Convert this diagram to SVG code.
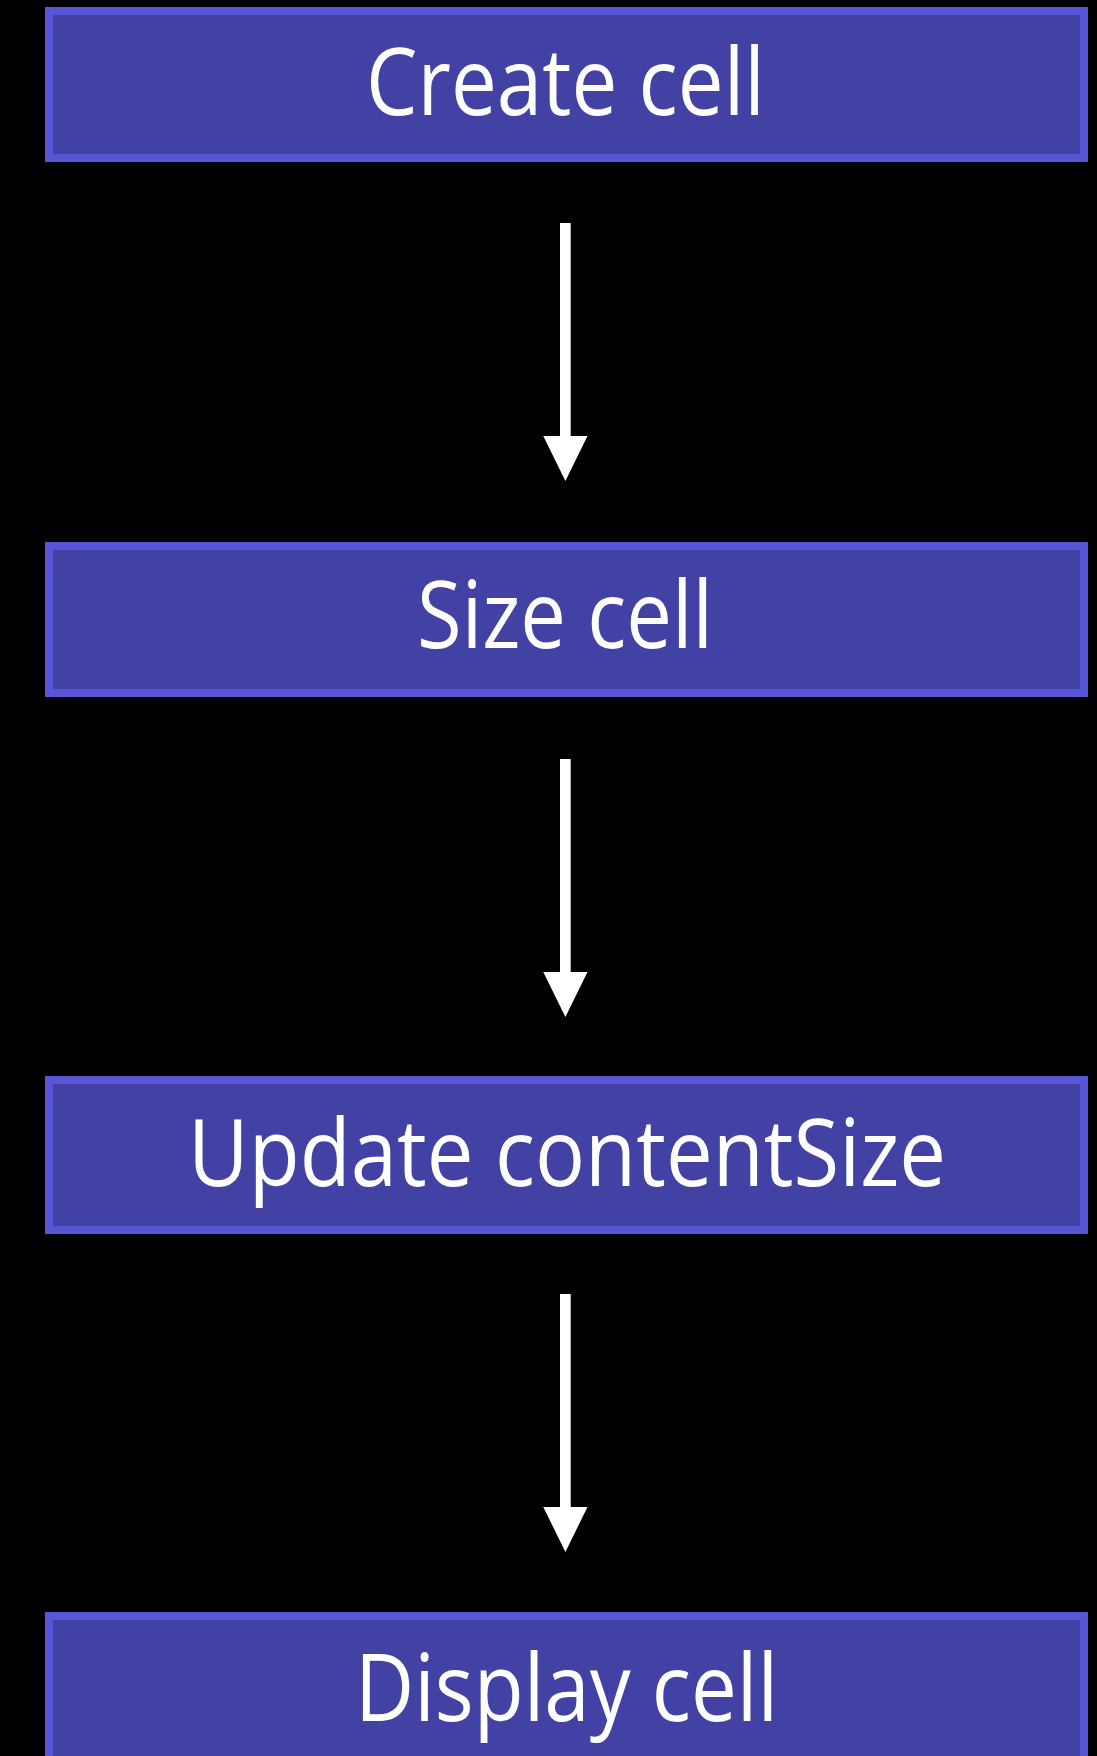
<svg xmlns="http://www.w3.org/2000/svg" width="1097" height="1756" viewBox="0 0 1097 1756">
<style>
.box{fill:#4341A3;stroke:#5856D6;stroke-width:8}
.lbl{fill:#FFFFFF;font-family:"Open Sans","Liberation Sans",Arial,sans-serif;font-size:93px}
.shaft{fill:#FFFFFF}
.head{fill:#FFFFFF}
</style>
<rect width="1097" height="1756" fill="#000000"/>
<g id="node-create">
<rect class="box" x="49" y="11" width="1035" height="147"/>
<text class="lbl" x="366" y="115" textLength="399" lengthAdjust="spacingAndGlyphs">Create cell</text>
</g>
<g id="node-size">
<rect class="box" x="49" y="546" width="1035" height="147"/>
<text class="lbl" x="417" y="648" textLength="296" lengthAdjust="spacingAndGlyphs">Size cell</text>
</g>
<g id="node-update">
<rect class="box" x="49" y="1080" width="1035" height="150"/>
<text class="lbl" x="188" y="1186" textLength="758" lengthAdjust="spacingAndGlyphs">Update contentSize</text>
</g>
<g id="node-display">
<rect class="box" x="49" y="1616" width="1035" height="160"/>
<text class="lbl" x="355" y="1721" textLength="423" lengthAdjust="spacingAndGlyphs">Display cell</text>
</g>
<g id="connectors">
<rect class="shaft" x="560" y="223" width="10.7" height="215"/>
<polygon class="head" points="543.3,436 587.5,436 565.4,481"/>
<rect class="shaft" x="560" y="759" width="10.7" height="215"/>
<polygon class="head" points="543.3,972 587.5,972 565.4,1017"/>
<rect class="shaft" x="560" y="1294" width="10.7" height="215"/>
<polygon class="head" points="543.3,1507 587.5,1507 565.4,1552"/>
</g>
</svg>
